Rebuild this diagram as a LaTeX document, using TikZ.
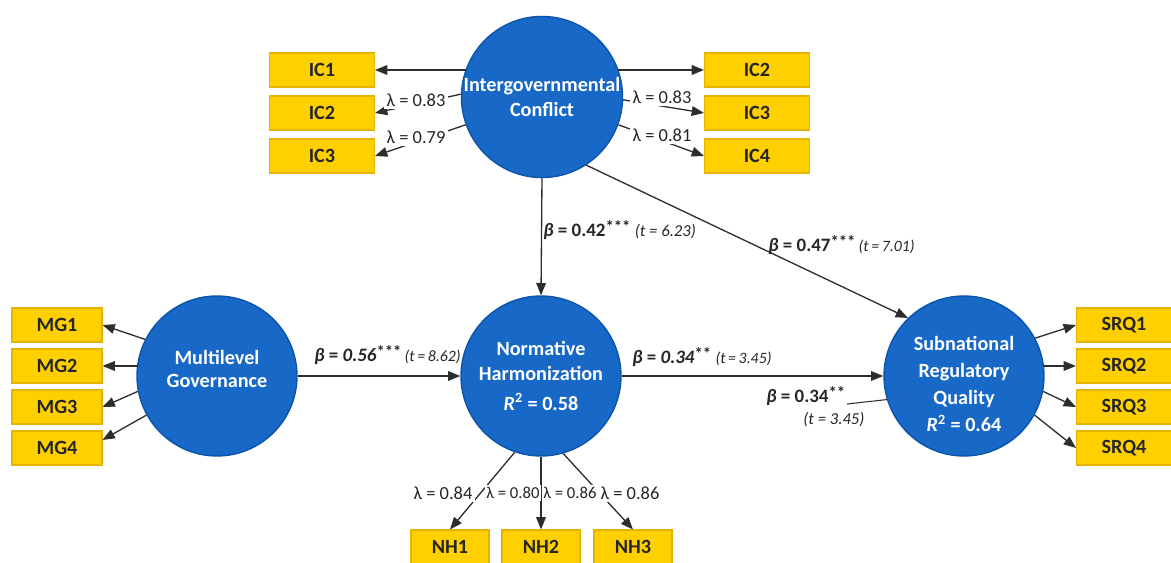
\documentclass[tikz,border=0pt]{standalone}
\usepackage{fontspec}
\setmainfont{Carlito}
\usetikzlibrary{arrows.meta}

\definecolor{latblue}{RGB}{24,104,200}
\definecolor{latedge}{RGB}{12,84,170}
\definecolor{indyel}{RGB}{255,208,0}
\definecolor{indedge}{RGB}{228,180,0}
\definecolor{pathgray}{RGB}{45,45,45}

\tikzset{
	latent/.style={circle, fill=latblue, draw=latedge, line width=0.8pt, minimum size=3.2cm, inner sep=0pt, text=white, align=center, font=\fontsize{11.5}{14}\selectfont\bfseries},
	indic/.style={rectangle, fill=indyel, draw=indedge, line width=0.6pt, minimum width=2.1cm, minimum height=0.68cm, inner sep=0pt, text=black!85, font=\fontsize{11.5}{12}\selectfont\bfseries},
	load/.style={draw=pathgray, line width=0.75pt, -{Triangle[length=7pt,width=5.5pt]}},
	lam/.style={fill=white, inner sep=1.5pt, text=black!85, font=\fontsize{10.5}{11}\selectfont},
	coef/.style={inner sep=0pt, anchor=west, text=black!85, font=\fontsize{10.8}{12}\selectfont},
}
\newcommand{\lam}[1]{λ = #1}
\newcommand{\tval}[1]{{\fontsize{9}{10}\selectfont\itshape (t\,=\,#1)}}
\newcommand{\tvalw}[1]{{\fontsize{9.5}{10}\selectfont\itshape (t = #1)}}
\newcommand{\bet}{{\bfseries\itshape β}}
\newcommand{\stars}[1]{\raisebox{0.25em}{\fontsize{9.5}{10}\selectfont\bfseries #1}}

\begin{document}
\begin{tikzpicture}[x=0.02cm, y=-0.02cm]
			%%%%% START %%%%%
			\useasboundingbox (0, 0) rectangle (1171, 563);
			
			% latent variables
			\node[latent] (ic) at (542, 97) {Intergovernmental\\Conflict};
			\node[latent, font=\fontsize{11.5}{13}\selectfont\bfseries] (mg) at (217, 376) {Multilevel\\Governance\rule[-8pt]{0pt}{0pt}};
			\node[latent] (nh) at (541, 376) {Normative\\Harmonization\\[3pt]{\itshape R}\textsuperscript{2} = 0.58};
			\node[latent, font=\fontsize{11.5}{15.5}\selectfont\bfseries] (srq) at (964, 376) {\rule{0pt}{17pt}Subnational\\Regulatory\\Quality\\{\itshape R}\textsuperscript{2} = 0.64};
			
			% indicators
			\node[indic] (ic1l) at (322, 70) {IC1};
			\node[indic] (ic2l) at (322, 113) {IC2};
			\node[indic] (ic3l) at (322, 156) {IC3};
			\node[indic] (ic2r) at (757, 70) {IC2};
			\node[indic] (ic3r) at (757, 113) {IC3};
			\node[indic] (ic4r) at (757, 156) {IC4};
			
			\node[indic, minimum width=1.8cm] (mg1) at (57, 325) {MG1};
			\node[indic, minimum width=1.8cm] (mg2) at (57, 366) {MG2};
			\node[indic, minimum width=1.8cm] (mg3) at (57, 407) {MG3};
			\node[indic, minimum width=1.8cm] (mg4) at (57, 448) {MG4};
			
			\node[indic, minimum width=1.9cm] (srq1) at (1124, 325) {SRQ1};
			\node[indic, minimum width=1.9cm] (srq2) at (1124, 366) {SRQ2};
			\node[indic, minimum width=1.9cm] (srq3) at (1124, 407) {SRQ3};
			\node[indic, minimum width=1.9cm] (srq4) at (1124, 448) {SRQ4};
			
			\node[indic, minimum width=1.56cm] (nh1) at (450, 547) {NH1};
			\node[indic, minimum width=1.56cm] (nh2) at (541, 547) {NH2};
			\node[indic, minimum width=1.56cm] (nh3) at (633, 547) {NH3};
			
			% loadings
			\draw[load] (ic.160 |- ic1l) -- (ic1l.east);
			\draw[load] (ic.178) -- (ic2l.east);
			\draw[load] (ic.200) -- (ic3l.east);
			\draw[load] (ic.20 |- ic2r) -- (ic2r.west);
			\draw[load] (ic.-2) -- (ic3r.west);
			\draw[load] (ic.-20) -- (ic4r.west);
			
			\draw[load] (mg.153) -- (mg1.east);
			\draw[load] (mg.169 |- mg2) -- (mg2.east);
			\draw[load] (mg.191) -- (mg3.east);
			\draw[load] (mg.209) -- (mg4.10);
			
			\draw[load] (srq.28) -- (srq1.west);
			\draw[load] (srq.10 |- srq2) -- (srq2.west);
			\draw[load] (srq.-11) -- (srq3.west);
			\draw[load] (srq.-29) -- (srq4.west);
			
			\draw[load] (nh.251) -- (nh1.north);
			\draw[load] (nh.south) -- (nh2.north);
			\draw[load] (nh.286) -- (nh3.north);
			
			\node[lam] (l-ic2l) at (416, 100) {\lam{0.83}};
			\node[lam] (l-ic3l) at (416, 137) {\lam{0.79}};
			\node[lam] (l-ic3r) at (662, 97) {\lam{0.83}};
			\node[lam] (l-ic4r) at (662, 135) {\lam{0.81}};
			
			\node[lam] (l-nh1) at (443, 493) {\lam{0.84}};
			\node[lam, inner sep=1pt, font=\fontsize{9.5}{10}\selectfont] (l-nh2) at (513, 493) {\lam{0.80}};
			\node[lam, inner sep=1pt, font=\fontsize{9.5}{10}\selectfont] (l-nh3a) at (570, 493) {\lam{0.86}};
			\node[lam] (l-nh3) at (630, 493) {\lam{0.86}};
			
			% structural paths
			\draw[load] (ic.south) -- (nh.north);
			\draw[load] (ic.-57) -- (srq.134);
			\draw[load] (mg.east) -- (nh.west);
			\draw[load] (nh.east) -- (srq.west);
			\coordinate (stub) at (847, 404);
			\draw[draw=pathgray, line width=0.6pt] (stub) -- (srq.197);
			
			\node[coef] (b-icnh) at (543, 230) {\bet\ \textbf{= 0.42}\stars{***} \tvalw{6.23}};
			\node[coef] (b-icsrq) at (768, 245) {\bet\ \textbf{= 0.47}\stars{***}\,\tval{7.01}};
			\node[coef] (b-mgnh) at (314, 355) {\bet\ \textbf{= \itshape 0.56}\stars{***}\,\tval{8.62}};
			\node[coef] (b-nhsrq) at (632, 357) {\bet\ \textbf{= \itshape 0.34}\stars{**} \tval{3.45}};
			\node[coef] (b-nhsrq2) at (766, 396) {\bet\ \textbf{= 0.34}\stars{**}};
			\node[coef] (t-nhsrq2) at (803, 420) {\tvalw{3.45}};
			
			%%%%% END %%%%%
\end{tikzpicture}
\end{document}
